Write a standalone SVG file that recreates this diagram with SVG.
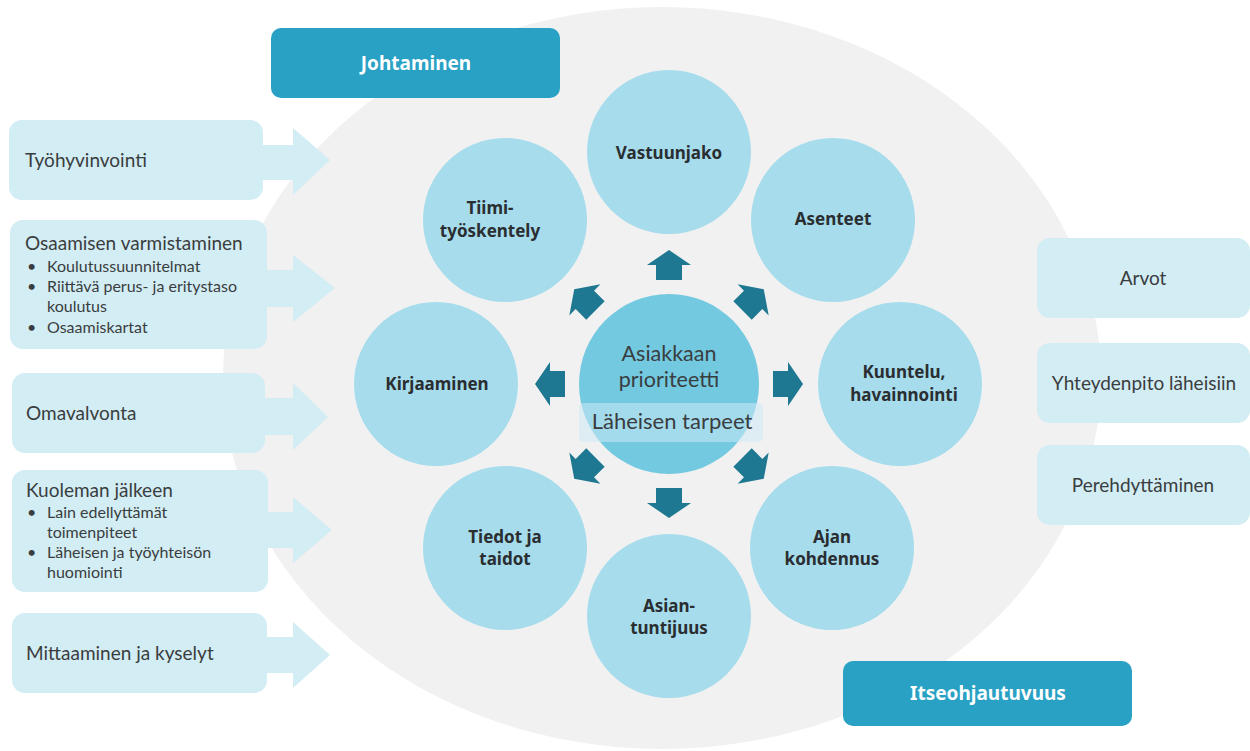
<svg xmlns="http://www.w3.org/2000/svg" width="1250" height="751" viewBox="0 0 1250 751">
  <defs>
    <style>
      .bg { fill: #f1f1f1; }
      .side { fill: #d3edf4; }
      .band { fill: #29a1c4; }
      .ring { fill: #a6dcec; }
      .hub { fill: #72c9e0; }
      .dart { fill: #1f7891; }
      .lbl { font-family: Lato, "Noto Sans", "Liberation Sans", sans-serif; fill: #3a3d40; }
      .b { font-family: "Noto Sans", Lato, "Liberation Sans", sans-serif; font-weight: 700; font-size: 17px; fill: #2a2e31; }
      .t17 { font-size: 19px; }
      .t14 { font-size: 16px; }
      .hd { font-family: "Noto Sans", Lato, "Liberation Sans", sans-serif; font-weight: 700; font-size: 19px; fill: #ffffff; }
      .mid { text-anchor: middle; }
    </style>
    <!-- outward block arrow pointing up, tip 134px above the hub centre -->
    <polygon id="dart" points="-13,-104 13,-104 13,-119 22,-119 0,-134 -22,-119 -13,-119"/>
  </defs>

  <!-- background field -->
  <ellipse class="bg" cx="662" cy="378" rx="439" ry="371"/>

  <!-- left inputs with arrows -->
  <g id="n-tyohyvinvointi">
    <rect class="side" x="9" y="120" width="254" height="80" rx="13"/>
    <path class="side" d="M258 145 H293 V128 L330 160 L293 195 V180 H258 Z"/>
    <text class="lbl t17" x="25" y="167">Työhyvinvointi</text>
  </g>
  <g id="n-osaaminen">
    <rect class="side" x="10" y="220" width="257" height="129" rx="13"/>
    <path class="side" d="M262 270 H293 V255 L335 288 L293 322 V307 H262 Z"/>
    <text class="lbl t17" x="25" y="250">Osaamisen varmistaminen</text>
    <text class="lbl t14">
      <tspan x="27" y="272">•</tspan><tspan x="47" y="272">Koulutussuunnitelmat</tspan>
      <tspan x="27" y="292">•</tspan><tspan x="47" y="292">Riittävä perus- ja eritystaso</tspan>
      <tspan x="47" y="312">koulutus</tspan>
      <tspan x="27" y="333">•</tspan><tspan x="47" y="333">Osaamiskartat</tspan>
    </text>
  </g>
  <g id="n-omavalvonta">
    <rect class="side" x="12" y="373" width="253" height="80" rx="13"/>
    <path class="side" d="M260 398 H293 V383 L328 417 L293 450 V435 H260 Z"/>
    <text class="lbl t17" x="26" y="420">Omavalvonta</text>
  </g>
  <g id="n-kuoleman">
    <rect class="side" x="12" y="470" width="256" height="122" rx="13"/>
    <path class="side" d="M263 512 H293 V497 L332 530 L293 563 V548 H263 Z"/>
    <text class="lbl t17" x="26" y="497">Kuoleman jälkeen</text>
    <text class="lbl t14">
      <tspan x="27" y="518">•</tspan><tspan x="47" y="518">Lain edellyttämät</tspan>
      <tspan x="47" y="538">toimenpiteet</tspan>
      <tspan x="27" y="558">•</tspan><tspan x="47" y="558">Läheisen ja työyhteisön</tspan>
      <tspan x="47" y="578">huomiointi</tspan>
    </text>
  </g>
  <g id="n-mittaaminen">
    <rect class="side" x="12" y="613" width="255" height="80" rx="13"/>
    <path class="side" d="M262 637 H293 V622 L330 655 L293 688 V673 H262 Z"/>
    <text class="lbl t17" x="26" y="660">Mittaaminen ja kyselyt</text>
  </g>

  <!-- right-hand boxes -->
  <g id="n-arvot">
    <rect class="side" x="1037" y="238" width="213" height="80" rx="13"/>
    <text class="lbl t17 mid" x="1143" y="285">Arvot</text>
  </g>
  <g id="n-yhteydenpito">
    <rect class="side" x="1037" y="343" width="213" height="80" rx="13"/>
    <text class="lbl t17 mid" x="1144" y="390">Yhteydenpito läheisiin</text>
  </g>
  <g id="n-perehdyttaminen">
    <rect class="side" x="1037" y="445" width="213" height="80" rx="13"/>
    <text class="lbl t17 mid" x="1143" y="492">Perehdyttäminen</text>
  </g>

  <!-- headings -->
  <g id="n-johtaminen">
    <rect class="band" x="271" y="28" width="289" height="70" rx="10"/>
    <text class="hd mid" x="416" y="70">Johtaminen</text>
  </g>
  <g id="n-itseohjautuvuus">
    <rect class="band" x="843" y="661" width="289" height="65" rx="10"/>
    <text class="hd mid" x="988" y="700">Itseohjautuvuus</text>
  </g>

  <!-- ring of topics -->
  <g id="n-vastuunjako">
    <circle class="ring" cx="669" cy="152" r="82"/>
    <text class="b mid" x="669" y="159">Vastuunjako</text>
  </g>
  <g id="n-asenteet">
    <circle class="ring" cx="833" cy="220" r="82"/>
    <text class="b mid" x="833" y="225">Asenteet</text>
  </g>
  <g id="n-kuuntelu">
    <circle class="ring" cx="900" cy="384" r="82"/>
    <text class="b mid" x="904" y="378">Kuuntelu,</text>
    <text class="b mid" x="904" y="401">havainnointi</text>
  </g>
  <g id="n-ajan">
    <circle class="ring" cx="832" cy="548" r="82"/>
    <text class="b mid" x="832" y="543">Ajan</text>
    <text class="b mid" x="832" y="565">kohdennus</text>
  </g>
  <g id="n-asiantuntijuus">
    <circle class="ring" cx="669" cy="616" r="82"/>
    <text class="b mid" x="669" y="612">Asian-</text>
    <text class="b mid" x="669" y="634">tuntijuus</text>
  </g>
  <g id="n-tiedot">
    <circle class="ring" cx="505" cy="548" r="82"/>
    <text class="b mid" x="505" y="543">Tiedot ja</text>
    <text class="b mid" x="505" y="565">taidot</text>
  </g>
  <g id="n-kirjaaminen">
    <circle class="ring" cx="436" cy="384" r="82"/>
    <text class="b mid" x="437" y="390">Kirjaaminen</text>
  </g>
  <g id="n-tiimi">
    <circle class="ring" cx="505" cy="220" r="82"/>
    <text class="b mid" x="490" y="214">Tiimi-</text>
    <text class="b mid" x="490" y="237">työskentely</text>
  </g>

  <!-- hub -->
  <g id="n-asiakkaan">
    <circle class="hub" cx="669" cy="384" r="90"/>
    <text class="lbl mid" x="669" y="361" font-size="21.5">Asiakkaan</text>
    <text class="lbl mid" x="669" y="387" font-size="21.5">prioriteetti</text>
    <rect x="579" y="403" width="184" height="39" rx="5" fill="#cdeaf5" fill-opacity="0.55"/>
    <text class="lbl mid" x="672" y="429" font-size="22">Läheisen tarpeet</text>
  </g>

  <!-- connectors: arrows from the hub outwards -->
  <g id="connectors" class="dart" transform="translate(669 384)">
    <use href="#dart"/>
    <use href="#dart" transform="rotate(45)"/>
    <use href="#dart" transform="rotate(90)"/>
    <use href="#dart" transform="rotate(135)"/>
    <use href="#dart" transform="rotate(180)"/>
    <use href="#dart" transform="rotate(225)"/>
    <use href="#dart" transform="rotate(270)"/>
    <use href="#dart" transform="rotate(315)"/>
  </g>
</svg>
